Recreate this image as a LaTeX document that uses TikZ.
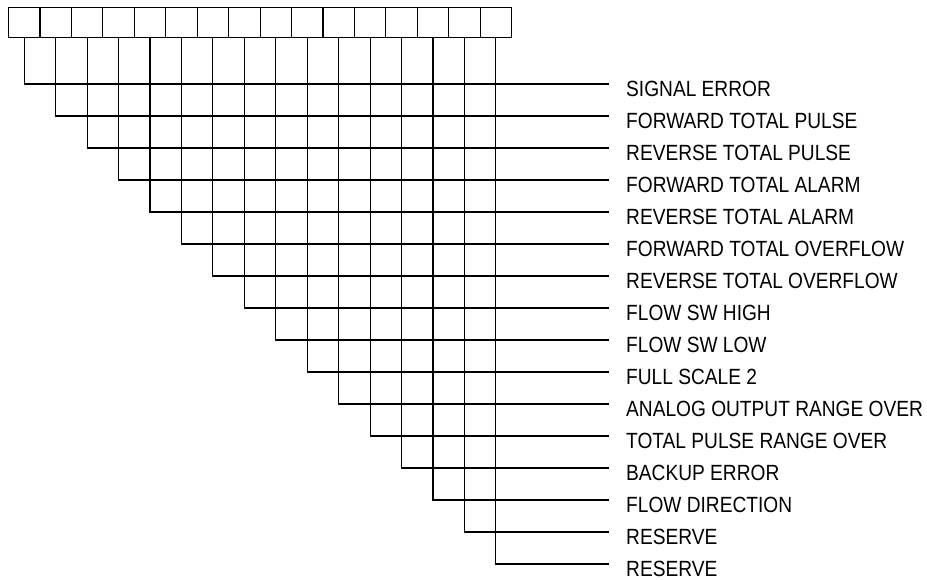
\documentclass[tikz,border=0pt]{standalone}
\usepackage{fontspec}
\setmainfont{Liberation Sans}[FakeStretch=0.87]
\begin{document}
\begin{tikzpicture}[x=1pt,y=-1pt,
  bitbox/.style={draw=black, line width=1.1pt, minimum width=31.44pt, minimum height=30pt, inner sep=0pt, anchor=north west},
  lbl/.style={anchor=base west, inner sep=0pt, font=\fontsize{22}{24}\selectfont},
  wire/.style={draw=black, line width=1.1pt}]
\useasboundingbox (0,0) rectangle (927,579);
\foreach \i in {1,...,16} {
  \node[bitbox] (b\i) at ({8+31.44*(\i-1)},7) {};
}
\foreach \i/\t in {1/SIGNAL ERROR, 2/FORWARD TOTAL PULSE, 3/REVERSE TOTAL PULSE, 4/FORWARD TOTAL ALARM, 5/REVERSE TOTAL ALARM, 6/FORWARD TOTAL OVERFLOW, 7/REVERSE TOTAL OVERFLOW, 8/FLOW SW HIGH, 9/FLOW SW LOW, 10/FULL SCALE 2, 11/ANALOG OUTPUT RANGE OVER, 12/TOTAL PULSE RANGE OVER, 13/BACKUP ERROR, 14/FLOW DIRECTION, 15/RESERVE, 16/RESERVE} {
  \pgfmathsetmacro\yy{84+32*(\i-1)}
  \coordinate (e\i) at (609,\yy);
  \node[lbl] (l\i) at (626,{\yy+12.3}) {\t};
  \draw[wire] (b\i.south) |- (e\i);
}
\end{tikzpicture}
\end{document}
